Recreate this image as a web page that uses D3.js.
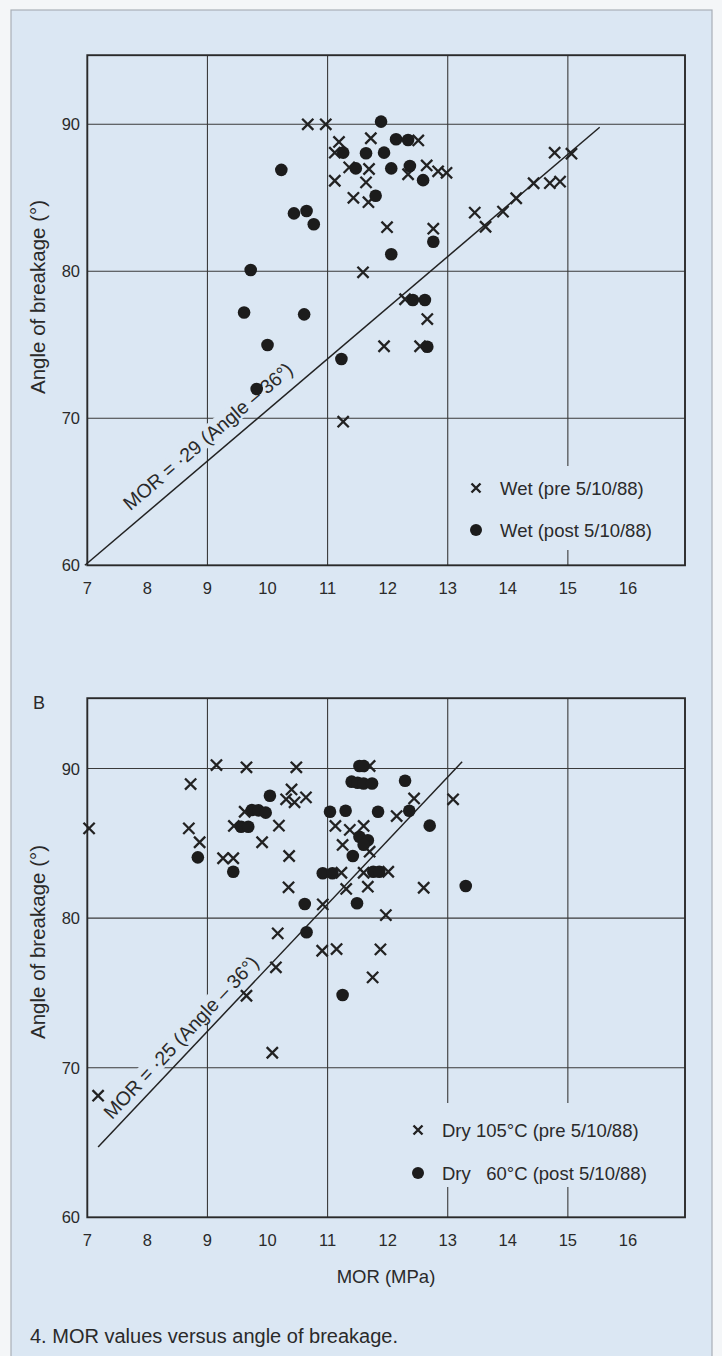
<!DOCTYPE html>
<html><head><meta charset="utf-8">
<script src="https://cdn.jsdelivr.net/npm/d3@7"></script>
<style>
body{margin:0;background:#f4f6f8}
svg{display:block}
text{font-family:"Liberation Sans",Arial,Helvetica,sans-serif;fill:#2a2a2a}
</style></head>
<body><svg id="c" width="722" height="1356"></svg>
<script>
// ---------- data ----------
const xTickLabels = [7, 8, 9, 10, 11, 12, 13, 14, 15, 16];
const xGrid = [9, 11, 13, 15];
const yTickLabels = [60, 70, 80, 90];
const yGrid = [70, 80, 90];

// Panel A: [MOR (MPa), angle (deg)]
const wetPre = [[10.67,90.0],[10.97,90.0],[11.19,88.8],[11.72,89.05],[11.12,88.07],[12.51,88.9],[11.36,87.07],
 [11.69,86.96],[11.12,86.16],[11.64,86.05],[11.43,85.0],[11.68,84.7],[12.65,87.2],[12.34,86.6],[12.84,86.8],
 [12.98,86.7],[11.99,83.0],[12.76,82.9],[11.59,79.93],[12.29,78.1],[12.66,76.75],[11.94,74.9],[12.54,74.9],
 [11.26,69.77],[14.78,88.07],[15.06,88.0],[14.43,85.99],[14.70,86.0],[14.87,86.1],[14.14,84.97],[13.92,84.06],
 [13.45,83.99],[13.63,83.03]];
const wetPost = [[11.89,90.18],[12.14,88.98],[12.34,88.93],[11.26,88.07],[11.64,88.03],[11.94,88.07],[10.23,86.9],
 [11.47,87.0],[12.06,87.0],[12.37,87.16],[12.59,86.2],[11.80,85.14],[10.44,83.94],[10.65,84.1],[10.77,83.2],
 [12.76,82.01],[12.06,81.16],[9.72,80.09],[12.42,78.05],[12.62,78.05],[9.61,77.2],[10.61,77.07],[10.0,74.99],
 [12.66,74.87],[11.23,74.03],[9.82,71.99]];
const lineA = [[6.96,60],[15.53,89.8]];

// Panel B
const dryPre = [[7.03,86.0],[8.72,88.96],[8.69,86.0],[8.87,85.07],[9.15,90.23],[9.65,90.08],[10.48,90.08],
 [9.26,84.0],[9.43,84.0],[9.44,86.16],[9.62,87.11],[9.91,85.07],[10.19,86.18],[10.40,88.6],[10.31,87.94],
 [10.45,87.74],[10.64,88.07],[10.36,84.15],[10.35,82.06],[10.17,78.98],[10.92,80.92],[11.13,86.16],[11.37,85.9],
 [11.25,84.89],[11.23,83.03],[11.31,81.95],[11.60,86.16],[11.70,90.17],[11.70,84.44],[11.60,83.03],[11.67,82.1],
 [12.01,83.1],[11.97,80.2],[12.15,86.82],[12.44,88.0],[12.60,82.03],[13.09,87.94],[10.91,77.82],[11.15,77.93],
 [11.88,77.91],[10.14,76.71],[11.75,76.04],[9.65,74.81],[10.08,71.0],[7.18,68.13]];
const dryPost = [[8.84,84.06],[9.43,83.1],[9.56,86.11],[9.68,86.11],[9.74,87.23],[9.85,87.2],[9.97,87.05],
 [10.04,88.18],[10.62,80.94],[10.65,79.05],[11.04,87.11],[10.92,83.0],[11.08,83.0],[11.30,87.18],[11.40,89.12],
 [11.50,89.05],[11.60,89.0],[11.74,89.0],[11.53,90.17],[11.60,90.17],[11.42,84.15],[11.49,80.99],[11.53,85.44],
 [11.67,85.2],[11.60,84.9],[11.84,87.11],[11.76,83.1],[11.86,83.1],[12.29,89.18],[12.36,87.18],[12.70,86.18],
 [13.30,82.15],[11.25,74.86]];
const lineB = [[7.18,64.7],[13.24,90.45]];

const xDomain = [7, 16.95];
const yDomain = [60, 94.7];

// ---------- drawing ----------
const BG = "#dbe7f3";
const INK = "#222";
const svg = d3.select("#c");
svg.append("rect").attr("x",11).attr("y",10).attr("width",701).attr("height",1352)
  .attr("fill",BG).attr("stroke","#a9b0b8").attr("stroke-width",1.2);

const x = d3.scaleLinear().domain(xDomain).range([87.3, 685]);

function panel(o){
  const y = d3.scaleLinear().domain(yDomain).range([o.bottom, o.top]);
  const g = svg.append("g");
  // grid
  g.selectAll(".gx").data(xGrid).join("line")
    .attr("x1",d=>x(d)).attr("x2",d=>x(d)).attr("y1",y(yDomain[0])).attr("y2",y(yDomain[1]))
    .attr("stroke","#3a3a3a").attr("stroke-width",1.1);
  g.selectAll(".gy").data(yGrid).join("line")
    .attr("x1",x(xDomain[0])).attr("x2",x(xDomain[1])).attr("y1",d=>y(d)).attr("y2",d=>y(d))
    .attr("stroke","#3a3a3a").attr("stroke-width",1.1);
  // legend mask
  g.append("rect").attr("x",o.legMask[0]).attr("y",o.legMask[1]).attr("width",o.legMask[2]).attr("height",o.legMask[3]).attr("fill",BG);

  // regression line label with mask
  const p0 = [x(o.line[0][0]), y(o.line[0][1])], p1 = [x(o.line[1][0]), y(o.line[1][1])];
  const ang = Math.atan2(p1[1]-p0[1], p1[0]-p0[0]) * 180/Math.PI;
  const lx = x(o.labelAt[0]), ly = y(o.labelAt[1]);
  const lg = g.append("g").attr("transform",`translate(${lx},${ly}) rotate(${ang})`);
  const lt = lg.append("text").attr("text-anchor","middle").attr("y",o.labelDy)
    .attr("font-size",19.5).text(o.label);
  const bb = lt.node().getBBox();
  lg.insert("rect","text").attr("x",bb.x-2).attr("y",bb.y+1).attr("width",bb.width+4).attr("height",bb.height-3).attr("fill",BG);

  // frame
  g.append("rect").attr("x",x(xDomain[0])).attr("y",y(yDomain[1]))
    .attr("width",x(xDomain[1])-x(xDomain[0])).attr("height",y(yDomain[0])-y(yDomain[1]))
    .attr("fill","none").attr("stroke","#2a2a2a").attr("stroke-width",1.9);

  // regression line
  g.append("path").attr("d",d3.line().x(d=>x(d[0])).y(d=>y(d[1]))(o.line))
    .attr("stroke",INK).attr("stroke-width",1.5).attr("fill","none");

  // points
  const cross = (sel, s, w) => sel.append("path")
    .attr("d",`M${-s},${-s}L${s},${s}M${-s},${s}L${s},${-s}`)
    .attr("stroke",INK).attr("stroke-width",w).attr("fill","none");
  g.selectAll(".cx").data(o.pre).join("g").attr("transform",d=>`translate(${x(d[0])},${y(d[1])})`)
    .each(function(){ cross(d3.select(this),5.6,2.3); });
  g.selectAll(".dt").data(o.post).join("circle").attr("cx",d=>x(d[0])).attr("cy",d=>y(d[1]))
    .attr("r",6.3).attr("fill","#1c1c1c");

  // ticks
  g.selectAll(".tx").data(xTickLabels).join("text").attr("x",d=>x(d)).attr("y",y(yDomain[0])+29)
    .attr("text-anchor","middle").attr("font-size",16.5).text(d=>d);
  g.selectAll(".ty").data(yTickLabels).join("text").attr("x",80).attr("y",d=>y(d)+6)
    .attr("text-anchor","end").attr("font-size",16.5).text(d=>d);
  // y title
  g.append("text").attr("transform",`translate(45,${o.yTitleY}) rotate(-90)`).attr("text-anchor","middle")
    .attr("font-size",20.5).text("Angle of breakage (°)");

  // legend
  const lgx = o.legX;
  cross(g.append("g").attr("transform",`translate(${lgx},${o.legY[0]})`),4.5,2.4);
  g.append("circle").attr("cx",lgx).attr("cy",o.legY[1]).attr("r",6).attr("fill","#1c1c1c");
  g.append("text").attr("x",lgx+24).attr("y",o.legY[0]+6.5).attr("font-size",18.5).attr("xml:space","preserve").text(o.legText[0]);
  g.append("text").attr("x",lgx+24).attr("y",o.legY[1]+6.5).attr("font-size",18.5).attr("xml:space","preserve").text(o.legText[1]);
  return y;
}

panel({top:55.2,bottom:565.3,pre:wetPre,post:wetPost,line:lineA,
  label:"MOR = ·29 (Angle – 36°)", labelAt:[9.21,67.8], labelDy:-12,
  legMask:[458,466,212,84], legX:476, legY:[488,530],
  legText:["Wet (pre 5/10/88)","Wet (post 5/10/88)"], yTitleY:297});

panel({top:698.2,bottom:1217.3,pre:dryPre,post:dryPost,line:lineB,
  label:"MOR = ·25 (Angle – 36°)", labelAt:[8.75,71.3], labelDy:-9,
  legMask:[403,1103,268,84], legX:418, legY:[1130,1173],
  legText:["Dry 105°C (pre 5/10/88)","Dry   60°C (post 5/10/88)"], yTitleY:942});

svg.append("text").attr("x",39).attr("y",709).attr("text-anchor","middle").attr("font-size",18).text("B");
svg.append("text").attr("x",386).attr("y",1283).attr("text-anchor","middle").attr("font-size",18.5).text("MOR (MPa)");
svg.append("text").attr("x",30).attr("y",1343).attr("font-size",20).text("4. MOR values versus angle of breakage.");
</script></body></html>
